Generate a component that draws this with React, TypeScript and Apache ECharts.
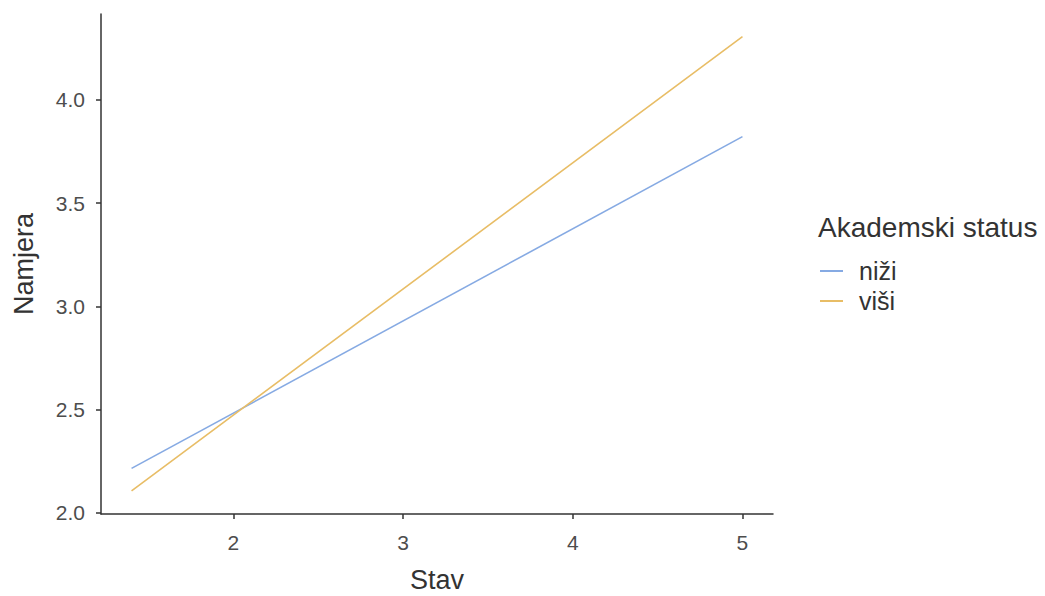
import React, { useEffect, useRef } from "react";
import * as echarts from "echarts";

const xValues = [1.4, 5];
const nizi = [2.215, 3.822];
const visi = [2.106, 4.306];
const yTicks = [2.0, 2.5, 3.0, 3.5, 4.0];
const xTicks = [2, 3, 4, 5];
const seriesNames = ["niži", "viši"];
const legendTitle = "Akademski status";

export default function App() {
  const ref = useRef<HTMLDivElement>(null);
  useEffect(() => {
    if (!ref.current) return;
    const chart = echarts.init(ref.current, null, { renderer: "svg" });
    const font = "'Liberation Sans', Arial, sans-serif";
    const axisCommon = {
      axisLine: { show: true, lineStyle: { color: "#333", width: 1.5 } },
      axisTick: { show: true, length: 5, lineStyle: { color: "#333", width: 1.5 } },
      splitLine: { show: false },
      nameTextStyle: { color: "#333", fontSize: 27, fontFamily: font },
    };
    chart.setOption({
      animation: false,
      backgroundColor: "#fff",
      grid: {
        left: 101,
        right: 272,
        top: 14,
        bottom: 82,
        containLabel: false,
        outerBoundsMode: "none",
      },
      xAxis: {
        type: "value",
        min: 1.22,
        max: 5.18,
        name: "Stav",
        nameLocation: "middle",
        nameGap: 52,
        ...axisCommon,
        axisTick: { ...axisCommon.axisTick, customValues: xTicks },
        axisLabel: {
          customValues: xTicks,
          color: "#4d4d4d",
          fontSize: 21,
          fontFamily: font,
          margin: 18,
          formatter: (v: number) => String(v),
        },
      },
      yAxis: {
        type: "value",
        min: 1.994,
        max: 4.416,
        name: "Namjera",
        nameLocation: "middle",
        nameGap: 64,
        nameRotate: 90,
        ...axisCommon,
        axisTick: { ...axisCommon.axisTick, customValues: yTicks },
        axisLabel: {
          customValues: yTicks,
          color: "#4d4d4d",
          fontSize: 21,
          fontFamily: font,
          margin: 16,
          formatter: (v: number) => v.toFixed(1),
        },
      },
      legend: {
        orient: "vertical",
        left: 820,
        top: 258,
        padding: 0,
        itemWidth: 23,
        itemHeight: 2,
        itemGap: 4,
        icon: "rect",
        textStyle: { fontSize: 25, lineHeight: 26, color: "#333", fontFamily: font, padding: [0, 0, 0, 11] },
        data: seriesNames,
      },
      graphic: [
        {
          type: "text",
          left: 818,
          top: 213,
          style: { text: legendTitle, fontSize: 28, fill: "#333", fontFamily: font },
        },
      ],
      series: [
        {
          name: seriesNames[0],
          type: "line",
          data: xValues.map((x, i) => [x, nizi[i]]),
          symbol: "none",
          lineStyle: { color: "#86aae3", width: 1.6 },
          itemStyle: { color: "#86aae3" },
        },
        {
          name: seriesNames[1],
          type: "line",
          data: xValues.map((x, i) => [x, visi[i]]),
          symbol: "none",
          lineStyle: { color: "#e8bd66", width: 1.6 },
          itemStyle: { color: "#e8bd66" },
        },
      ],
    });
    return () => chart.dispose();
  }, []);
  return <div ref={ref} style={{ width: 1045, height: 596, position: "absolute", left: 0, top: 0 }} />;
}
